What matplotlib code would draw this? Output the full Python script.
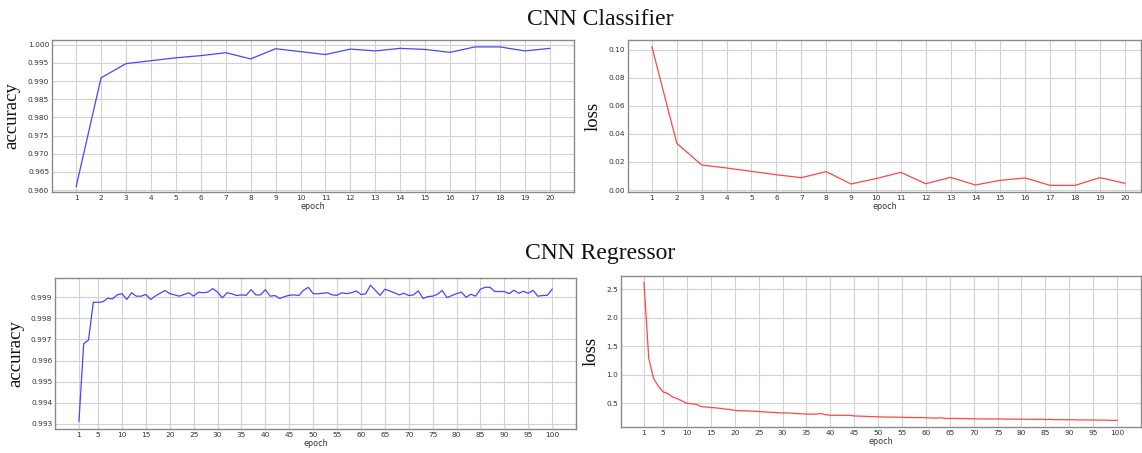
import matplotlib
matplotlib.use("Agg")
import matplotlib.pyplot as plt
import numpy as np

# ---------------- data ----------------
clf_epochs = list(range(1, 21))
clf_acc = [0.9610, 0.9909, 0.9948, 0.9956, 0.9964, 0.9970, 0.9978, 0.9961, 0.9989, 0.9981,
           0.9973, 0.9988, 0.9983, 0.9990, 0.9987, 0.9979, 0.9994, 0.9994, 0.9983, 0.9990]
clf_loss = [0.1021, 0.0333, 0.0178, 0.0157, 0.0133, 0.0109, 0.0088, 0.0131, 0.0043, 0.0081,
            0.0126, 0.0045, 0.0090, 0.0036, 0.0069, 0.0086, 0.0033, 0.0033, 0.0088, 0.0048]

reg_epochs = list(range(1, 101))
reg_acc = [0.99313, 0.99680, 0.99697, 0.99876, 0.99876, 0.99878, 0.99895, 0.99892, 0.99911, 0.99917,
           0.99889, 0.99921, 0.99905, 0.99905, 0.99913, 0.99889, 0.99906, 0.99919, 0.99932, 0.99917,
           0.99911, 0.99905, 0.99913, 0.99921, 0.99905, 0.99924, 0.99921, 0.99925, 0.99941, 0.99924,
           0.99897, 0.99921, 0.99916, 0.99908, 0.99911, 0.99909, 0.99936, 0.99911, 0.99911, 0.99936,
           0.99905, 0.99908, 0.99894, 0.99903, 0.99909, 0.99911, 0.99908, 0.99933, 0.99947, 0.99917,
           0.99916, 0.99919, 0.99921, 0.99911, 0.99909, 0.99921, 0.99917, 0.99921, 0.99930, 0.99913,
           0.99916, 0.99957, 0.99933, 0.99909, 0.99938, 0.99930, 0.99921, 0.99911, 0.99919, 0.99908,
           0.99911, 0.99930, 0.99894, 0.99903, 0.99905, 0.99914, 0.99932, 0.99898, 0.99908, 0.99917,
           0.99924, 0.99900, 0.99914, 0.99905, 0.99938, 0.99947, 0.99947, 0.99927, 0.99927, 0.99927,
           0.99917, 0.99933, 0.99919, 0.99928, 0.99919, 0.99933, 0.99905, 0.99908, 0.99909, 0.99938]
reg_loss = [2.62, 1.29, 0.94, 0.80, 0.70, 0.67, 0.61, 0.58, 0.54, 0.50,
            0.49, 0.48, 0.44, 0.435, 0.425, 0.42, 0.41, 0.40, 0.39, 0.375,
            0.37, 0.37, 0.365, 0.36, 0.355, 0.35, 0.345, 0.34, 0.335, 0.33,
            0.33, 0.325, 0.32, 0.315, 0.31, 0.31, 0.31, 0.32, 0.30, 0.29,
            0.29, 0.29, 0.288, 0.29, 0.278, 0.275, 0.272, 0.268, 0.265, 0.262,
            0.26, 0.258, 0.258, 0.255, 0.255, 0.25, 0.252, 0.248, 0.25, 0.246,
            0.243, 0.24, 0.245, 0.235, 0.233, 0.235, 0.232, 0.234, 0.228, 0.228,
            0.227, 0.225, 0.226, 0.224, 0.226, 0.225, 0.222, 0.223, 0.22, 0.222,
            0.218, 0.22, 0.216, 0.222, 0.214, 0.218, 0.212, 0.214, 0.21, 0.212,
            0.21, 0.208, 0.209, 0.206, 0.208, 0.205, 0.204, 0.203, 0.20, 0.20]

clf_xticks = list(range(1, 21))
reg_xticks = [1] + list(range(5, 101, 5))
clf_acc_yticks = [0.960, 0.965, 0.970, 0.975, 0.980, 0.985, 0.990, 0.995, 1.000]
clf_loss_yticks = [0.00, 0.02, 0.04, 0.06, 0.08, 0.10]
reg_acc_yticks = [0.993, 0.994, 0.995, 0.996, 0.997, 0.998, 0.999]
reg_loss_yticks = [0.5, 1.0, 1.5, 2.0, 2.5]

titles = ["CNN Classifier", "CNN Regressor"]

# ---------------- figure ----------------
fig = plt.figure(figsize=(11.42, 4.53), dpi=100)
SERIF = ["Liberation Serif", "DejaVu Serif"]


def style(ax, xticks, yticks, yfmt, ylabel, xlim, ylim):
    ax.set_xticks(xticks)
    ax.set_yticks(yticks)
    ax.set_yticklabels([yfmt.format(v) for v in yticks])
    ax.set_xlim(*xlim)
    ax.set_ylim(*ylim)
    ax.grid(True, color="#d2d2d2", linewidth=0.8)
    ax.set_axisbelow(True)
    ax.tick_params(axis="both", length=0, labelsize=5.3, labelcolor="#333333", pad=2)
    for s in ax.spines.values():
        s.set_color("#8a8a8a")
        s.set_linewidth(1.0)
    ax.set_xlabel("epoch", fontsize=5.8, color="#333333", labelpad=1)
    ax.set_ylabel(ylabel, family=SERIF, fontsize=13.5, color="#111111", labelpad=5)


ax1 = fig.add_axes([0.0455, 0.5762, 0.4571, 0.3355])
ax1.plot(clf_epochs, clf_acc, color="#4646ff", linewidth=0.9)
style(ax1, clf_xticks, clf_acc_yticks, "{:.3f}", "accuracy", (0.03, 20.97), (0.9595, 1.0013))

ax2 = fig.add_axes([0.5499, 0.5762, 0.4490, 0.3355])
ax2.plot(clf_epochs, clf_loss, color="#ff4646", linewidth=0.9)
style(ax2, clf_xticks, clf_loss_yticks, "{:.2f}", "loss", (0.04, 20.64), (-0.0014, 0.1069))

ax3 = fig.add_axes([0.0482, 0.0530, 0.4562, 0.3333])
ax3.plot(reg_epochs, reg_acc, color="#4646ff", linewidth=0.9)
style(ax3, reg_xticks, reg_acc_yticks, "{:.3f}", "accuracy", (-4.0, 105.0), (0.99276, 0.99991))

ax4 = fig.add_axes([0.5438, 0.0574, 0.4553, 0.3333])
ax4.plot(reg_epochs, reg_loss, color="#ff4646", linewidth=0.9)
style(ax4, reg_xticks, reg_loss_yticks, "{:.1f}", "loss", (-3.8, 105.0), (0.084, 2.733))

fig.text(0.5254, 0.958, titles[0], family=SERIF, fontsize=17, ha="center", va="center", color="#111111")
fig.text(0.5254, 0.440, titles[1], family=SERIF, fontsize=17, ha="center", va="center", color="#111111")

fig.savefig("out.png", dpi=100)
